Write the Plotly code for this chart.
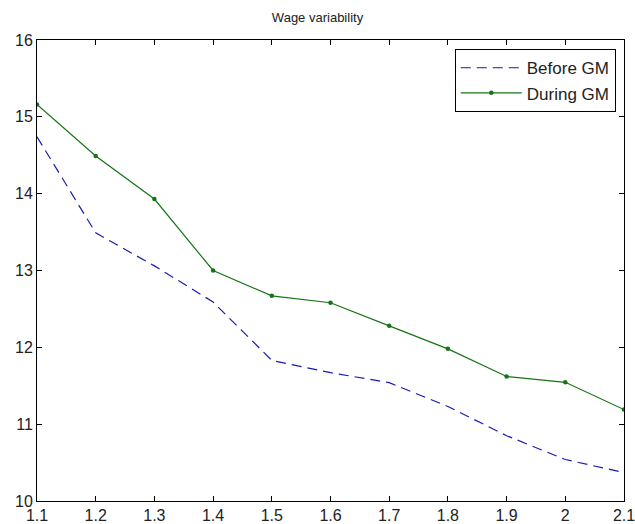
import plotly.graph_objects as go

x_vals = [1.1, 1.2, 1.3, 1.4, 1.5, 1.6, 1.7, 1.8, 1.9, 2.0, 2.1]
x_tick_text = ["1.1", "1.2", "1.3", "1.4", "1.5", "1.6", "1.7", "1.8", "1.9", "2", "2.1"]
before_gm = [14.74, 13.49, 13.06, 12.59, 11.83, 11.67, 11.54, 11.23, 10.85, 10.54, 10.37]
during_gm = [15.16, 14.49, 13.93, 13.00, 12.67, 12.58, 12.28, 11.98, 11.62, 11.545, 11.19]
y_ticks = [10, 11, 12, 13, 14, 15, 16]

font_family = "Liberation Sans, Arial, sans-serif"

fig = go.Figure()
fig.add_trace(go.Scatter(
    x=x_vals, y=before_gm, mode="lines", name="Before GM",
    line=dict(color="#1a1ab4", width=1.2, dash="10px,6px"),
))
fig.add_trace(go.Scatter(
    x=x_vals, y=during_gm, mode="lines+markers", name="During GM",
    line=dict(color="#167416", width=1.2),
    marker=dict(color="#167416", size=4.5, symbol="circle"),
))

axis_common = dict(
    showgrid=False, zeroline=False, showline=True, linecolor="black", linewidth=1,
    mirror="ticks", ticks="inside", ticklen=5, tickcolor="black", tickwidth=1,
    automargin=False, ticklabeloverflow="allow",
    tickfont=dict(family=font_family, size=16, color="#222222"),
)

fig.update_layout(
    width=635, height=524,
    paper_bgcolor="white", plot_bgcolor="white",
    margin=dict(l=37, r=11, t=40, b=23, autoexpand=False),
    title=dict(text="Wage variability", x=0.5, xanchor="center", y=0.967, yanchor="middle",
               font=dict(family=font_family, size=13, color="#222222")),
    xaxis=dict(range=[1.1, 2.1], tickvals=x_vals, ticktext=x_tick_text, **axis_common),
    yaxis=dict(range=[10, 16], tickvals=y_ticks, ticktext=[str(v) for v in y_ticks], **axis_common),
    legend=dict(x=0.986, y=0.98, xanchor="right", yanchor="top",
                bgcolor="white", bordercolor="black", borderwidth=1,
                font=dict(family=font_family, size=17, color="#222222"),
                tracegroupgap=0, itemwidth=61),
    showlegend=True,
)

fig.write_html("out.html", config={"displayModeBar": False},
               post_script="document.body.style.margin='0';document.body.style.overflow='hidden';")
